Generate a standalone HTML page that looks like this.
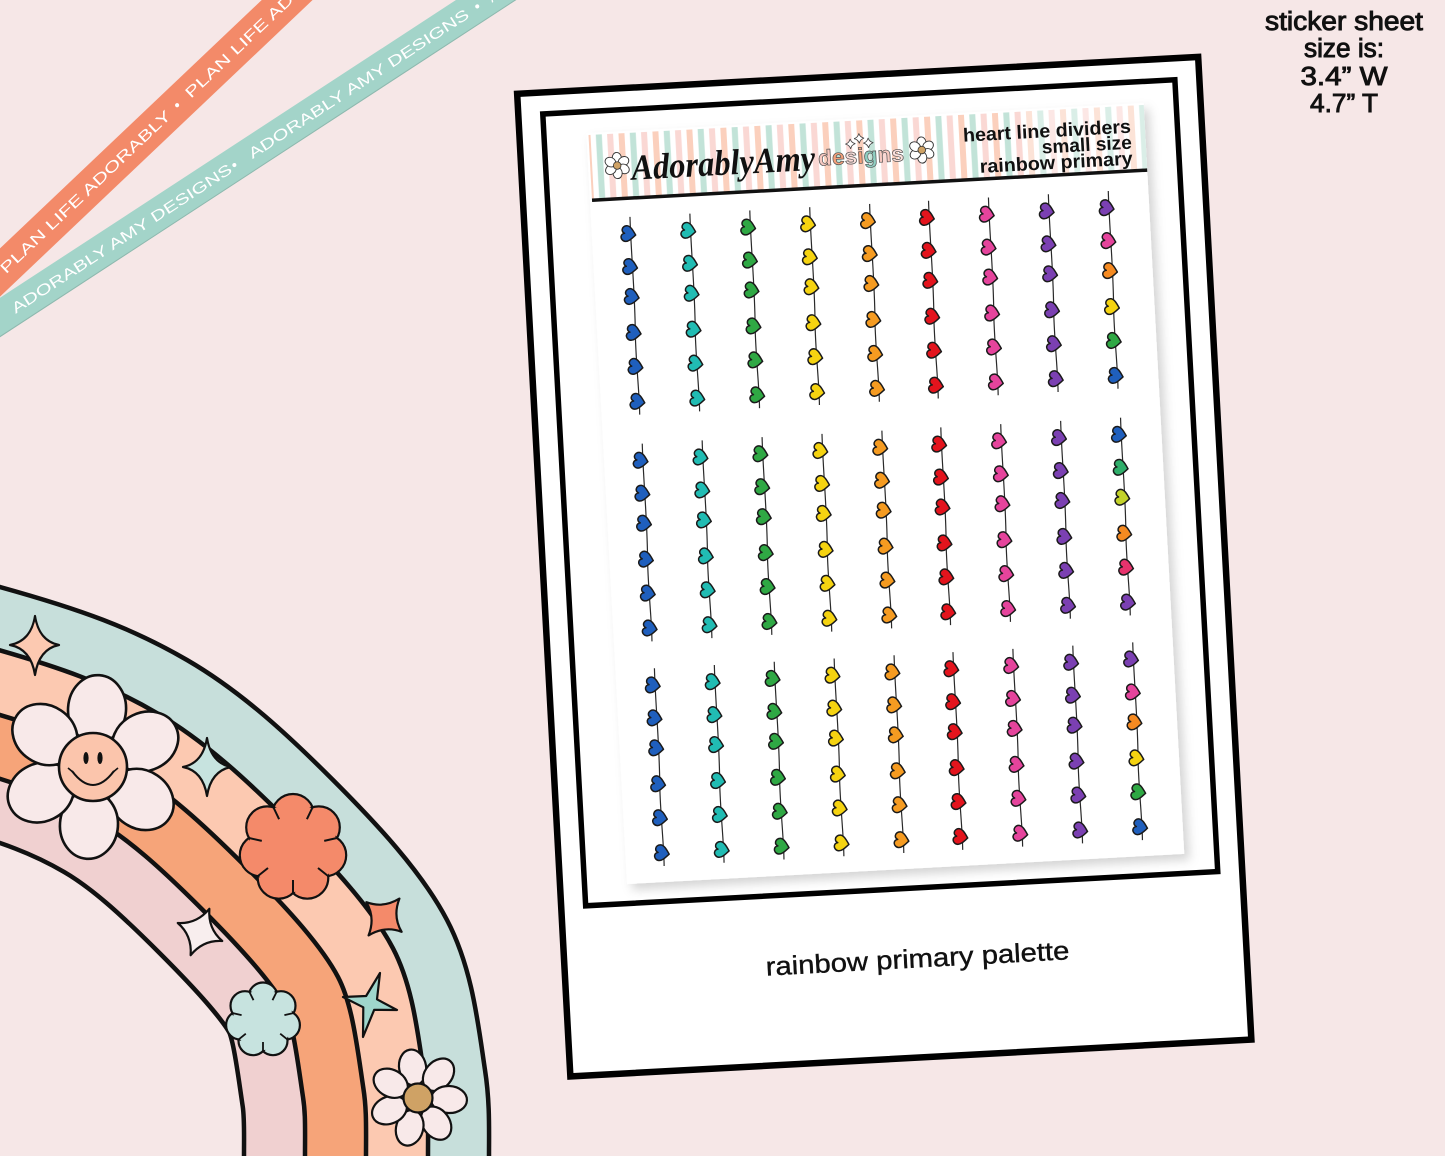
<!DOCTYPE html>
<html><head><meta charset="utf-8"><style>
html,body{margin:0;padding:0;background:#f6e7e7;width:1445px;height:1156px;overflow:hidden;}
svg{display:block;overflow:hidden;}
</style></head><body>
<svg width="1445" height="1156" viewBox="0 0 1445 1156" xmlns="http://www.w3.org/2000/svg" xmlns:xlink="http://www.w3.org/1999/xlink">
<defs>
  <clipPath id="cv"><rect width="1445" height="1156"/></clipPath>
  <path id="arcd" d="M-300 525 C-200 540 -81 564.5 0 587 C81 609.5 131.5 627.8 187 660 C242.5 692.2 289.7 736.7 333 780 C376.3 823.3 421.7 871.7 447 920 C472.3 968.3 478 1023.3 485 1070 C490 1102 489 1130 489 1156"/>
  <path id="h" d="M6.68,1.42 C3.45,3.95 -0.61,7.92 -4.2,7.16 C-7.29,6.5 -8.28,3.61 -7.95,2.07 C-7.58,0.32 -6.07,-0.75 -4.31,-0.92 C-5.85,-1.78 -6.8,-3.38 -6.42,-5.12 C-6.1,-6.66 -4.01,-8.9 -0.93,-8.25 C2.66,-7.48 4.76,-2.21 6.68,1.42 Z" stroke="#1a1a1a" stroke-width="1.5" stroke-linejoin="round"/>
  <path id="ln" d="M1,-17 C0,20 2,60 0,100 C-1,130 1,160 0,181" fill="none" stroke="#2a2a2a" stroke-width="1.2"/>
  <g id="col">
    <use href="#ln"/>
    <use href="#h" x="-1" y="0"/>
    <use href="#h" x="-1" y="33"/>
    <use href="#h" x="-1" y="63"/>
    <use href="#h" x="-1" y="99"/>
    <use href="#h" x="-1" y="133"/>
    <use href="#h" x="-1" y="168"/>
  </g>
  <g id="dz">
    <g fill="#fff" stroke="#333" stroke-width="0.9">
      <ellipse cx="0" cy="-7.5" rx="4.6" ry="5.6"/>
      <ellipse cx="0" cy="-7.5" rx="4.6" ry="5.6" transform="rotate(60)"/>
      <ellipse cx="0" cy="-7.5" rx="4.6" ry="5.6" transform="rotate(120)"/>
      <ellipse cx="0" cy="-7.5" rx="4.6" ry="5.6" transform="rotate(180)"/>
      <ellipse cx="0" cy="-7.5" rx="4.6" ry="5.6" transform="rotate(240)"/>
      <ellipse cx="0" cy="-7.5" rx="4.6" ry="5.6" transform="rotate(300)"/>
    </g>
    <circle r="3.8" fill="#cfa265" stroke="#333" stroke-width="0.8"/>
  </g>
  <pattern id="st" patternUnits="userSpaceOnUse" width="34" height="80">
    <rect width="34" height="80" fill="#fff"/>
    <rect x="0" width="6" height="80" fill="#fbd0bd"/>
    <rect x="11.3" width="6" height="80" fill="#c2e3d8"/>
    <rect x="22.6" width="6" height="80" fill="#fad8d4"/>
  </pattern>
  <filter id="sh" x="-10%" y="-10%" width="130%" height="130%">
    <feDropShadow dx="5" dy="6" stdDeviation="5" flood-color="#000" flood-opacity="0.17"/>
  </filter>
</defs>

<g clip-path="url(#cv)">
<rect width="1445" height="1156" fill="#f6e7e7"/>

<!-- RAINBOW -->
<g fill="none">
  <use href="#arcd" stroke="#111" stroke-width="494.5"/>
  <use href="#arcd" stroke="#f0d0d0" stroke-width="485.5"/>
  <use href="#arcd" stroke="#111" stroke-width="372.5"/>
  <use href="#arcd" stroke="#f6a479" stroke-width="363.5"/>
  <use href="#arcd" stroke="#111" stroke-width="250.5"/>
  <use href="#arcd" stroke="#fcc9b1" stroke-width="241.5"/>
  <use href="#arcd" stroke="#111" stroke-width="126.5"/>
  <use href="#arcd" stroke="#c7dfdb" stroke-width="117.5"/>
</g>
<path d="M-300 525 C-200 540 -81 564.5 0 587 C81 609.5 131.5 627.8 187 660 C242.5 692.2 289.7 736.7 333 780 C376.3 823.3 421.7 871.7 447 920 C472.3 968.3 478 1023.3 485 1070 C490 1102 489 1130 489 1156 L1445 1156 L1445 -300 L-300 -300 Z" fill="#f6e7e7"/>
<use href="#arcd" fill="none" stroke="#111" stroke-width="4.5"/>

<!-- rainbow decorations -->
<g stroke="#111" stroke-width="2.2" stroke-linejoin="round">
  <path d="M35,616 Q39,641 59,645 Q39,649 35,675 Q31,649 10,645 Q31,641 35,616 Z" fill="#fcc9b1"/>
  <path d="M207,738 Q211,763 231,767 Q211,771 207,796 Q203,771 183,767 Q203,763 207,738 Z" fill="#c7e3df"/>
  <g transform="translate(93,767)" fill="#f8e9e9" stroke-width="2.6">
    <ellipse cx="0" cy="-58" rx="29" ry="34" transform="rotate(4)"/>
    <ellipse cx="0" cy="-58" rx="29" ry="34" transform="rotate(64)"/>
    <ellipse cx="0" cy="-58" rx="29" ry="34" transform="rotate(124)"/>
    <ellipse cx="0" cy="-58" rx="29" ry="34" transform="rotate(184)"/>
    <ellipse cx="0" cy="-58" rx="29" ry="34" transform="rotate(244)"/>
    <ellipse cx="0" cy="-58" rx="29" ry="34" transform="rotate(304)"/>
    <circle r="34" fill="#fbc5ac"/>
    <ellipse cx="-7" cy="-9" rx="2.6" ry="6" fill="#111" stroke="none"/>
    <ellipse cx="7" cy="-9" rx="2.6" ry="6" fill="#111" stroke="none"/>
    <path d="M-21,4 Q0,32 21,4" fill="none" stroke-width="2"/>
    <path d="M-25,1 L-19,6 M25,1 L19,6" fill="none" stroke-width="1.6"/>
  </g>
  <g fill="#f48a6a">
    <circle cx="293" cy="815" r="21"/><circle cx="318.8" cy="827.4" r="21"/><circle cx="325.2" cy="855.3" r="21"/>
    <circle cx="307.3" cy="877.7" r="21"/><circle cx="278.7" cy="877.7" r="21"/><circle cx="260.8" cy="855.3" r="21"/>
    <circle cx="267.2" cy="827.4" r="21"/>
    <circle cx="293" cy="848" r="44" stroke="none"/>
    <path d="M312.5,807.5 L306.9,819.2 M336.9,838 L324.2,840.9 M328.2,876.1 L318,868 M293,893 L293,880 M257.8,876.1 L268,868 M249.1,838 L261.8,840.9 M273.5,807.5 L279.1,819.2" fill="none" stroke-width="2"/>
  </g>
  <path transform="translate(384,917) rotate(40)" d="M0,-24 Q6,-6 23,0 Q6,6 0,24 Q-6,6 -23,0 Q-6,-6 0,-24 Z" fill="#f48a6a"/>
  <path transform="translate(200,932) rotate(22)" d="M0,-25 Q6,-6 24,0 Q6,6 0,25 Q-6,6 -24,0 Q-6,-6 0,-25 Z" fill="#f8eeee"/>
  <g fill="#c7e3df">
    <circle cx="263" cy="997" r="14.5"/><circle cx="281" cy="1005.7" r="14.5"/><circle cx="285.4" cy="1025.1" r="14.5"/>
    <circle cx="273" cy="1040.7" r="14.5"/><circle cx="253" cy="1040.7" r="14.5"/><circle cx="240.6" cy="1025.1" r="14.5"/>
    <circle cx="245" cy="1005.7" r="14.5"/>
    <circle cx="263" cy="1020" r="30" stroke="none"/>
    <path d="M276.5,992.1 L272.5,1000.2 M293.2,1013.1 L284.4,1015.1 M287.2,1039.3 L280.2,1033.7 M263,1051 L263,1042 M238.8,1039.3 L245.8,1033.7 M232.8,1013.1 L241.6,1015.1 M249.5,992.1 L253.5,1000.2" fill="none" stroke-width="1.8"/>
  </g>
  <path d="M380,973 L377,999.3 L397,1010 L374.2,1009.8 L363,1037 L363.3,1007.3 L343,997 L366.1,996 Z" fill="#9fd6cc"/>
  <g transform="translate(418,1098)" fill="#f8e9e9" stroke-width="2.2">
    <ellipse cx="0" cy="-31" rx="13.5" ry="18" transform="rotate(-10)"/>
    <ellipse cx="0" cy="-31" rx="13.5" ry="18" transform="rotate(41.4)"/>
    <ellipse cx="0" cy="-31" rx="13.5" ry="18" transform="rotate(92.8)"/>
    <ellipse cx="0" cy="-31" rx="13.5" ry="18" transform="rotate(144.2)"/>
    <ellipse cx="0" cy="-31" rx="13.5" ry="18" transform="rotate(195.6)"/>
    <ellipse cx="0" cy="-31" rx="13.5" ry="18" transform="rotate(247)"/>
    <ellipse cx="0" cy="-31" rx="13.5" ry="18" transform="rotate(298.4)"/>
    <circle r="14.5" fill="#cfa265"/>
  </g>
</g>

<!-- RIBBONS -->
<g transform="translate(0,272.5) rotate(-43.5)">
  <rect x="-40" y="-17.5" width="500" height="35" fill="#f38a69"/>
  <g fill="#fff" font-family="Liberation Sans, sans-serif" font-size="15">
    <text x="3" y="5.5" textLength="229" lengthAdjust="spacingAndGlyphs">PLAN LIFE ADORABLY</text>
    <text x="241" y="5.5">•</text>
    <text x="258" y="5.5" textLength="229" lengthAdjust="spacingAndGlyphs">PLAN LIFE ADORABLY</text>
  </g>
</g>
<g transform="translate(0,317.5) rotate(-33.15)">
  <rect x="-60" y="-16.5" width="710" height="33" fill="#a3d4c9"/>
  <rect x="-60" y="15.5" width="710" height="1" fill="#8fb8ae"/>
  <g fill="#fff" font-family="Liberation Sans, sans-serif" font-size="15">
    <text x="15" y="5.5" textLength="260" lengthAdjust="spacingAndGlyphs">ADORABLY AMY DESIGNS</text>
    <text x="277" y="5.5">•</text>
    <text x="298" y="5.5" textLength="260" lengthAdjust="spacingAndGlyphs">ADORABLY AMY DESIGNS</text>
    <text x="567" y="5.5">•</text>
    <text x="584" y="5.5">A</text>
  </g>
</g>

<!-- TOP RIGHT TEXT -->
<g font-family="Liberation Sans, sans-serif" font-size="25.5" fill="#111" stroke="#111" stroke-width="0.9" text-anchor="middle">
  <text x="1344" y="30" textLength="158" lengthAdjust="spacingAndGlyphs">sticker sheet</text>
  <text x="1344" y="57" textLength="80" lengthAdjust="spacingAndGlyphs">size is:</text>
  <text x="1344" y="85" textLength="87" lengthAdjust="spacingAndGlyphs">3.4” W</text>
  <text x="1344" y="112" textLength="68" lengthAdjust="spacingAndGlyphs">4.7” T</text>
</g>

<!-- POLAROID -->
<g transform="translate(514,91) rotate(-3.1)">
  <rect x="3" y="3" width="682" height="984" fill="#fff" stroke="#000" stroke-width="6.5"/>
  <rect x="27.5" y="24.5" width="633" height="793" fill="#fff" stroke="#000" stroke-width="5.5"/>
  <rect x="70" y="46" width="558" height="752" fill="#fff" filter="url(#sh)"/>
  <rect x="72" y="48" width="556" height="64" fill="url(#st)"/>
  <rect x="505" y="48" width="123" height="64" fill="#fff" opacity="0.4"/>
  <rect x="72" y="111.5" width="556" height="3.5" fill="#111"/>
  <use href="#dz" x="99" y="80"/>
  <use href="#dz" x="404" y="81"/>
  <text x="113" y="95" font-family="Liberation Serif, serif" font-style="italic" font-weight="bold" font-size="36" fill="#111" textLength="184" lengthAdjust="spacingAndGlyphs">AdorablyAmy</text>
  <text x="300" y="91" font-family="Liberation Sans, sans-serif" font-weight="bold" font-size="22" stroke="#555" stroke-width="0.7" textLength="86" lengthAdjust="spacingAndGlyphs"><tspan fill="#f7c9c1">d</tspan><tspan fill="#f4a07a">e</tspan><tspan fill="#fbe0dc">s</tspan><tspan fill="#f4a07a">i</tspan><tspan fill="#8fd0c3">g</tspan><tspan fill="#f7c9c1">n</tspan><tspan fill="#fbe0dc">s</tspan></text>
  <g fill="#fff" stroke="#444" stroke-width="0.8">
    <path d="M333,66 Q334,70 338,71 Q334,72 333,76 Q332,72 328,71 Q332,70 333,66 Z"/>
    <path d="M342,61 Q343,65 347,66 Q343,67 342,71 Q341,67 337,66 Q341,65 342,61 Z"/>
    <path d="M351,66 Q352,70 356,71 Q352,72 351,76 Q350,72 346,71 Q350,70 351,66 Z"/>
  </g>
  <g font-family="Liberation Sans, sans-serif" font-weight="bold" font-size="19" fill="#111" text-anchor="end">
    <text x="614" y="75" textLength="168" lengthAdjust="spacingAndGlyphs">heart line dividers</text>
    <text x="614" y="91" textLength="90" lengthAdjust="spacingAndGlyphs">small size</text>
    <text x="614" y="107" textLength="153" lengthAdjust="spacingAndGlyphs">rainbow primary</text>
  </g>

  <use href="#col" x="108" y="149" fill="#1f5fbd"/>
  <use href="#col" x="168" y="149" fill="#21bcb3"/>
  <use href="#col" x="228" y="149" fill="#2fa844"/>
  <use href="#col" x="288" y="149" fill="#f5d311"/>
  <use href="#col" x="348" y="149" fill="#f59b21"/>
  <use href="#col" x="407" y="149" fill="#e3141d"/>
  <use href="#col" x="467" y="149" fill="#e5449c"/>
  <use href="#col" x="527" y="149" fill="#7b40b2"/>
  <g transform="translate(587,149)">
    <use href="#ln"/>
    <use href="#h" x="-1" y="0" fill="#7b40b2"/>
    <use href="#h" x="-1" y="33" fill="#e5449c"/>
    <use href="#h" x="-1" y="63" fill="#f58a21"/>
    <use href="#h" x="-1" y="99" fill="#f5d311"/>
    <use href="#h" x="-1" y="133" fill="#2fa844"/>
    <use href="#h" x="-1" y="168" fill="#1f5fbd"/>
  </g>
  <use href="#col" x="108" y="376" fill="#1f5fbd"/>
  <use href="#col" x="168" y="376" fill="#21bcb3"/>
  <use href="#col" x="228" y="376" fill="#2fa844"/>
  <use href="#col" x="288" y="376" fill="#f5d311"/>
  <use href="#col" x="348" y="376" fill="#f59b21"/>
  <use href="#col" x="407" y="376" fill="#e3141d"/>
  <use href="#col" x="467" y="376" fill="#e5449c"/>
  <use href="#col" x="527" y="376" fill="#7b40b2"/>
  <g transform="translate(587,376)">
    <use href="#ln"/>
    <use href="#h" x="-1" y="0" fill="#1f5fbd"/>
    <use href="#h" x="-1" y="33" fill="#2fae6a"/>
    <use href="#h" x="-1" y="63" fill="#c3d22a"/>
    <use href="#h" x="-1" y="99" fill="#f58a21"/>
    <use href="#h" x="-1" y="133" fill="#e8336d"/>
    <use href="#h" x="-1" y="168" fill="#7b40b2"/>
  </g>
  <use href="#col" x="108" y="601" fill="#1f5fbd"/>
  <use href="#col" x="168" y="601" fill="#21bcb3"/>
  <use href="#col" x="228" y="601" fill="#2fa844"/>
  <use href="#col" x="288" y="601" fill="#f5d311"/>
  <use href="#col" x="348" y="601" fill="#f59b21"/>
  <use href="#col" x="407" y="601" fill="#e3141d"/>
  <use href="#col" x="467" y="601" fill="#e5449c"/>
  <use href="#col" x="527" y="601" fill="#7b40b2"/>
  <g transform="translate(587,601)">
    <use href="#ln"/>
    <use href="#h" x="-1" y="0" fill="#7b40b2"/>
    <use href="#h" x="-1" y="33" fill="#e5449c"/>
    <use href="#h" x="-1" y="63" fill="#f58a21"/>
    <use href="#h" x="-1" y="99" fill="#f5d311"/>
    <use href="#h" x="-1" y="133" fill="#2fa844"/>
    <use href="#h" x="-1" y="168" fill="#1f5fbd"/>
  </g>

  <text x="356" y="897" text-anchor="middle" font-family="Liberation Sans, sans-serif" font-size="26" fill="#111" stroke="#111" stroke-width="0.4" textLength="304" lengthAdjust="spacingAndGlyphs">rainbow primary palette</text>
</g>
</g>
</svg>
</body></html>
